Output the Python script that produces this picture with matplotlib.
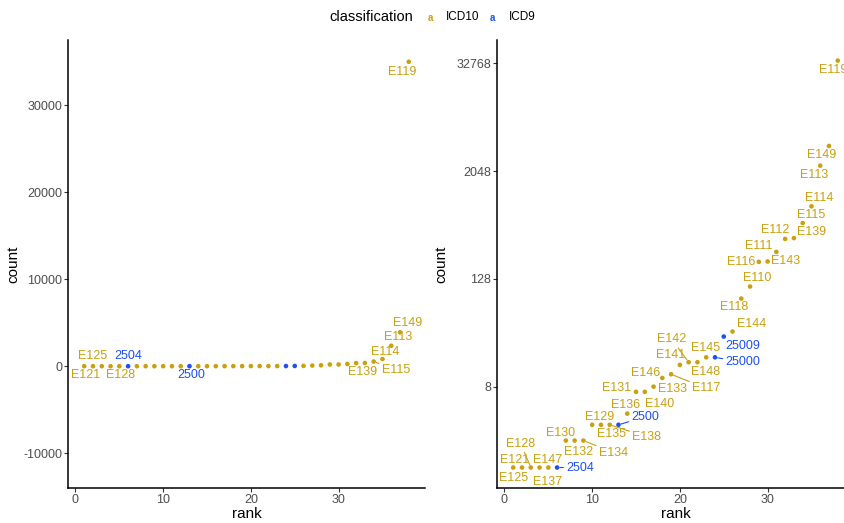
import numpy as np
import matplotlib.pyplot as plt
from matplotlib.ticker import FixedLocator

plt.rcParams['font.family'] = ['Liberation Sans', 'DejaVu Sans']
plt.rcParams['axes.unicode_minus'] = False

# data: codes sorted by count (rank 1..38)
codes = ['E121', 'E125', 'E128', 'E137', 'E147', '2504',
         'E130', 'E132', 'E134', 'E129', 'E135', 'E138', '2500',
         'E136', 'E131', 'E140', 'E133', 'E146', 'E117', 'E141',
         'E142', 'E148', 'E145', '25000', '25009', 'E144', 'E118',
         'E110', 'E116', 'E143', 'E111', 'E112', 'E139', 'E115',
         'E114', 'E113', 'E149', 'E119']
counts = [1, 1, 1, 1, 1, 1,
          2, 2, 2, 3, 3, 3, 3,
          4, 7, 7, 8, 10, 11, 14,
          15, 15, 17, 17, 29, 33, 77,
          105, 198, 200, 256, 357, 365, 537,
          826, 2350, 3900, 35000]
classification = ['ICD9' if c[0] != 'E' else 'ICD10' for c in codes]
ranks = np.arange(1, len(codes) + 1)

colors = {'ICD10': '#C9A00E', 'ICD9': '#1C50F0'}
pt_colors = [colors[c] for c in classification]

# label offsets in pixels (dx, dy up) and whether a segment is drawn
right_off = {
    'E121': (1, 8, 0), 'E125': (-8, -10, 0), 'E128': (-10, 24, 1),
    'E137': (8, -14, 0), 'E147': (-1, 8, 0), '2504': (23, 0, 1),
    'E130': (-5, 8, 0), 'E132': (4, -11, 0), 'E134': (30, -12, 1),
    'E129': (7, 8, 0), 'E135': (11, -9, 0), 'E138': (37, -12, 1),
    '2500': (27, 8, 1), 'E136': (-2, 9, 0), 'E131': (-19, 4, 0),
    'E140': (15, -12, 0), 'E133': (19, -2, 0), 'E146': (-17, 5, 0),
    'E117': (35, -14, 1), 'E141': (-9, 10, 0), 'E142': (-17, 23, 1),
    'E148': (8, -10, 0), 'E145': (-1, 9, 0), '25000': (28, -5, 1),
    '25009': (19, -9, 0), 'E144': (19, 8, 0), 'E118': (-7, -8, 0),
    'E110': (7, 9, 0), 'E116': (-18, 0, 0), 'E143': (18, 0, 0),
    'E111': (-18, 6, 0), 'E112': (-10, 9, 0), 'E139': (18, 6, 0),
    'E115': (8, 8, 0), 'E114': (8, 8, 0), 'E113': (-6, -9, 0),
    'E149': (-7, -9, 0), 'E119': (-5, -9, 0),
}
left_off = {
    'E125': (0, 10, 0), 'E121': (1, -9, 0), '2504': (0, 10, 0),
    'E128': (19, -9, 0), '2500': (2, -9, 0), 'E139': (-2, -9, 0),
    'E115': (22, -8, 1), 'E114': (3, 7, 0), 'E113': (7, 9, 0),
    'E149': (8, 9, 0), 'E119': (-7, -10, 0),
}

W, H = 844, 523
fig = plt.figure(figsize=(W / 100, H / 100), dpi=100)
ax1 = fig.add_axes([68 / W, 35 / H, 357 / W, 448 / H])
ax2 = fig.add_axes([497 / W, 35 / H, 357 / W, 448 / H])


def style(ax, pad):
    for s in ['top', 'right']:
        ax.spines[s].set_visible(False)
    for s in ['left', 'bottom']:
        ax.spines[s].set_linewidth(1.1)
        ax.spines[s].set_color('black')
    ax.tick_params(colors='#333333', labelsize=9, length=2.8, width=0.8,
                   labelcolor='#4D4D4D', pad=1.5)
    ax.set_xlabel('rank', fontsize=11, labelpad=1)
    ax.set_ylabel('count', fontsize=11, labelpad=pad)
    ax.set_xlim(-0.85, 39.85)
    ax.set_xticks([0, 10, 20, 30])


def label(ax, offs, yvals):
    for code, r, y, col in zip(codes, ranks, yvals, pt_colors):
        if code not in offs:
            continue
        dx, dy, seg = offs[code]
        kw = {}
        if seg:
            kw['arrowprops'] = dict(arrowstyle='-', color=col, lw=0.8,
                                    shrinkA=0, shrinkB=2)
        ax.annotate(code, (r, y), xytext=(dx, dy), textcoords='offset pixels',
                    ha='center', va='center', fontsize=9, color=col, **kw)


# left: linear scale
ax1.scatter(ranks, counts, c=pt_colors, s=11, linewidths=0, zorder=3)
style(ax1, 2)
ax1.set_ylim(-14000, 37500)
ax1.set_yticks([-10000, 0, 10000, 20000, 30000])
label(ax1, left_off, counts)

# right: log2 scale
log_counts = np.log2(counts)
ax2.scatter(ranks, log_counts, c=pt_colors, s=11, linewidths=0, zorder=3)
style(ax2, 6)
ax2.set_ylim(-0.76, 15.86)
ax2.yaxis.set_major_locator(FixedLocator([3, 7, 11, 15]))
ax2.set_yticklabels(['8', '128', '2048', '32768'])
label(ax2, right_off, log_counts)

# legend across the top
fig.text(329 / W, 1 - 17 / H, 'classification', fontsize=10.5, va='center', ha='left')
fig.text(430 / W, 1 - 18 / H, 'a', fontsize=7, va='center', ha='center',
         color=colors['ICD10'], fontweight='bold')
fig.text(446 / W, 1 - 17 / H, 'ICD10', fontsize=8.5, va='center', ha='left')
fig.text(492 / W, 1 - 18 / H, 'a', fontsize=7, va='center', ha='center',
         color=colors['ICD9'], fontweight='bold')
fig.text(509 / W, 1 - 17 / H, 'ICD9', fontsize=8.5, va='center', ha='left')

fig.savefig('out.png', dpi=100)
